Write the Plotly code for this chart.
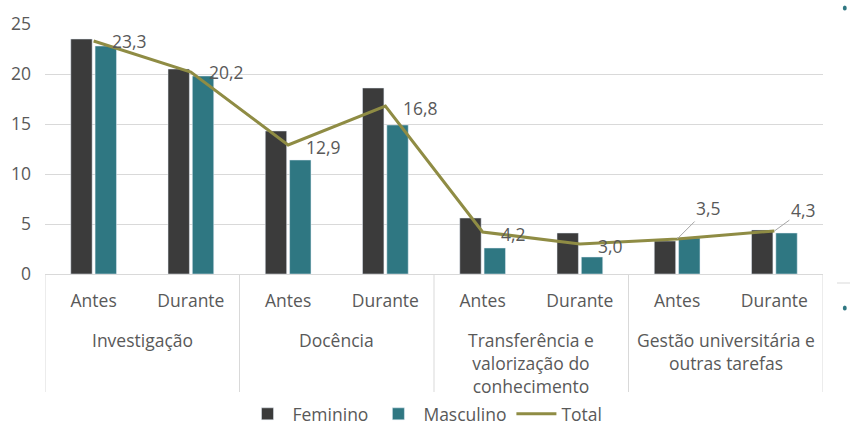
import plotly.graph_objects as go

grupos = ["Investigação", "Docência",
          "Transferência e<br>valorização do<br>conhecimento",
          "Gestão universitária e<br>outras tarefas"]
periodos = ["Antes", "Durante", "Antes", "Durante", "Antes", "Durante", "Antes", "Durante"]
feminino = [23.5, 20.5, 14.3, 18.6, 5.6, 4.1, 3.3, 4.4]
masculino = [22.8, 19.8, 11.4, 14.9, 2.6, 1.7, 3.6, 4.1]
total = [23.3, 20.2, 12.9, 16.8, 4.2, 3.0, 3.5, 4.3]
total_labels = ["23,3", "20,2", "12,9", "16,8", "4,2", "3,0", "3,5", "4,3"]
y_ticks = [0, 5, 10, 15, 20, 25]

FONT = "Open Sans"
FS = 17.5
GREY = "#595959"
DARK = "#3b3b3b"
TEAL = "#2f7782"
OLIVE = "#8f8c44"
LIGHT = "#d9d9d9"

# unique category keys: group index + period
cats = [f"{i // 2}-{p}" for i, p in enumerate(periodos)]

fig = go.Figure()
fig.add_trace(go.Bar(x=cats, y=feminino, name="Feminino", marker_color=DARK))
fig.add_trace(go.Bar(x=cats, y=masculino, name="Masculino", marker_color=TEAL))
fig.add_trace(go.Scatter(x=cats, y=total, name="Total", mode="lines",
                         line=dict(color=OLIVE, width=3)))

annotations = []
lab_font = dict(family=FONT, size=FS, color=GREY)
for i, (v, t) in enumerate(zip(total, total_labels)):
    if i == 6:
        annotations.append(dict(x=i, y=v, xref="x", yref="y", text=t, showarrow=True,
                                arrowhead=0, arrowwidth=1, arrowcolor="#a6a6a6",
                                ax=31, ay=-31, font=lab_font))
    elif i == 7:
        annotations.append(dict(x=i, y=v, xref="x", yref="y", text=t, showarrow=True,
                                arrowhead=0, arrowwidth=1, arrowcolor="#a6a6a6",
                                ax=29, ay=-21, font=lab_font))
    else:
        annotations.append(dict(x=i, y=v, xref="x", yref="y", text=t, showarrow=False,
                                xanchor="left", xshift=16, yshift=0 if i < 2 else -2,
                                font=lab_font))

# group labels under the period labels
for g, name in enumerate(grupos):
    annotations.append(dict(x=2 * g + 0.5, y=0, xref="x", yref="paper", text=name,
                            showarrow=False, yanchor="top", yshift=-52, align="center",
                            font=lab_font))

shapes = []
for b in range(len(grupos) + 1):
    shapes.append(dict(type="line", xref="x", yref="paper", x0=2 * b - 0.5, x1=2 * b - 0.5,
                       y0=0, y1=-0.472, line=dict(color=LIGHT, width=1)))

# small cropped-off legend remnants at the right edge of the reference image
for yy in (1.064, -0.136):
    shapes.append(dict(type="circle", xref="paper", yref="paper",
                       x0=1.0255, x1=1.0305, y0=yy - 0.01, y1=yy + 0.01,
                       fillcolor=TEAL, line=dict(width=0)))
shapes.append(dict(type="line", xref="paper", yref="paper", x0=1.018, x1=1.04,
                   y0=-0.036, y1=-0.036, line=dict(color=LIGHT, width=1)))

fig.update_layout(
    width=850, height=425,
    margin=dict(l=45, r=27, t=24, b=151, autoexpand=False),
    paper_bgcolor="white", plot_bgcolor="white",
    font=dict(family=FONT, size=FS, color=GREY),
    barmode="group", bargap=0.5, bargroupgap=0.12,
    showlegend=True,
    legend=dict(orientation="h", x=0.5, xanchor="center", xref="container",
                y=0.026, yanchor="middle", yref="container",
                font=dict(family=FONT, size=FS, color=GREY), itemwidth=40),
    annotations=annotations,
    shapes=shapes,
)
fig.update_yaxes(range=[0, 25], tickvals=y_ticks, showgrid=True, gridcolor=LIGHT,
                 gridwidth=1, zeroline=False, showline=False, ticks="",
                 ticklabelstandoff=13, tickfont=lab_font, automargin=False)
fig.update_xaxes(type="category", range=[-0.5, 7.5], tickvals=cats, ticktext=periodos,
                 showline=True, linecolor=LIGHT, linewidth=1, ticks="",
                 ticklabelstandoff=11, tickfont=lab_font, automargin=False)

fig.write_html("out.html", config={"displayModeBar": False},
               post_script="document.body.style.margin='0';")
